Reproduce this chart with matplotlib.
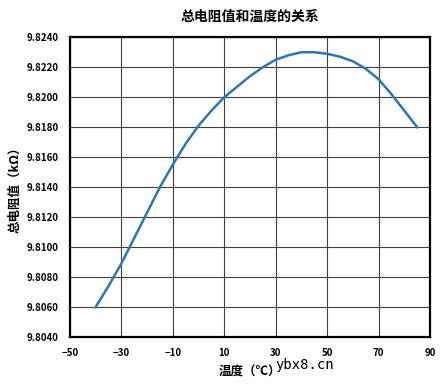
import matplotlib
matplotlib.use('Agg')
import matplotlib.pyplot as plt
import numpy as np

plt.rcParams['font.family'] = ['Noto Sans CJK SC', 'DejaVu Sans']

temps = [-40, -35, -30, -25, -20, -15, -10, -5, 0, 5, 10, 15, 20, 25, 30, 35, 40, 45, 50, 55, 60, 65, 70, 75, 80, 85]
resist = [9.8060, 9.8074, 9.8089, 9.8106, 9.8123, 9.8140, 9.8155, 9.8169, 9.8181, 9.8191, 9.8200, 9.8207, 9.8214, 9.8220,
          9.8225, 9.8228, 9.8230, 9.8230, 9.8229, 9.8227, 9.8224, 9.8219, 9.8212, 9.8202, 9.8191, 9.8180]

xticks = np.arange(-50, 91, 20)
yticks = np.arange(9.8040, 9.82401, 0.0020)

fig = plt.figure(figsize=(4.42, 3.88), dpi=100)
ax = fig.add_axes([0.158, 0.131, 0.815, 0.773])

ax.plot(temps, resist, color='#2e75b6', linewidth=1.8)

ax.set_xlim(-50, 90)
ax.set_ylim(9.8040, 9.8240)
ax.set_xticks(xticks)
ax.set_yticks(yticks)
ax.set_yticklabels([f'{v:.4f}' for v in yticks])
ax.grid(True, color='#404040', linewidth=0.8)
ax.tick_params(length=0, labelsize=7, pad=8)
for lab in ax.get_xticklabels() + ax.get_yticklabels():
    lab.set_fontweight('bold')
for s in ax.spines.values():
    s.set_linewidth(1.6)
    s.set_color('black')

ax.set_title('总电阻值和温度的关系', fontsize=10, fontweight='bold', pad=12)
ax.set_xlabel('温度（℃）', fontsize=9, fontweight='bold', labelpad=5)
ax.set_ylabel('总电阻值（kΩ）', fontsize=9, fontweight='bold', labelpad=4)

# watermark
fig.text(0.69, 0.060, 'ybx8.cn', fontsize=10, family='DejaVu Sans Mono', ha='center', va='center')

fig.savefig('out.png', dpi=100)
